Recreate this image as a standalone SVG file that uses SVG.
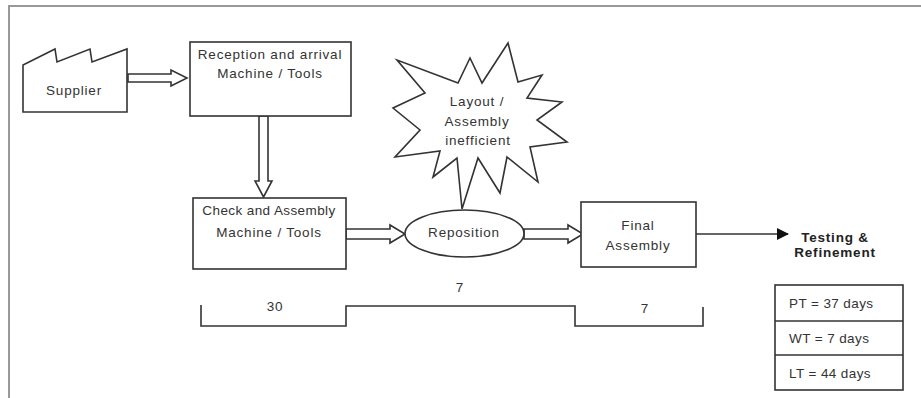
<svg xmlns="http://www.w3.org/2000/svg" width="921" height="398" viewBox="0 0 921 398">
<defs>
<style>
.shape{fill:#fff;stroke:#333;stroke-width:1.6;stroke-linejoin:miter}
.line{fill:none;stroke:#333;stroke-width:1.6}
.t{font-family:"Liberation Sans",Arial,sans-serif;font-size:13.5px;fill:#333;text-anchor:middle;letter-spacing:0.8px}
.tl{font-family:"Liberation Sans",Arial,sans-serif;font-size:13.5px;fill:#333;letter-spacing:0.4px}
.tb{font-family:"Liberation Sans",Arial,sans-serif;font-size:13.5px;font-weight:bold;fill:#222;text-anchor:middle;letter-spacing:0.8px}
</style>
<marker id="head" viewBox="0 0 12 12" refX="11" refY="6" markerWidth="12" markerHeight="12" markerUnits="userSpaceOnUse" orient="auto">
<path d="M0,0 L12,6 L0,12 Z" fill="#111"/>
</marker>
</defs>
<rect width="921" height="398" fill="#fff"/>
<g id="frame">
<path d="M9,398 L9,6 L921,6" fill="none" stroke="#999" stroke-width="2"/>
</g>
<g id="connectors">
<polygon class="shape" points="128,74 171,74 171,70 187,78 171,86 171,82 128,82"/>
<polygon class="shape" points="259,116 259,181 255,181 263.5,197 272,181 268,181 268,116"/>
<polygon class="shape" points="346,229 390,229 390,225 405,234 390,243 390,239 346,239"/>
<polygon class="shape" points="524,229 568,229 568,225 583,234 568,243 568,239 524,239"/>
<line class="line" x1="696" y1="234" x2="788" y2="234" marker-end="url(#head)"/>
</g>
<g id="supplier">
<path class="shape" d="M23,112 L23,65 L55,49 L57,62 L90,49 L92,62 L127,49 L127,112 Z"/>
<text class="t" x="74" y="95">Supplier</text>
</g>
<g id="reception">
<rect class="shape" x="190" y="42" width="161" height="74"/>
<text class="t" x="270" y="59">Reception and arrival</text>
<text class="t" x="270" y="78">Machine / Tools</text>
</g>
<g id="check">
<rect class="shape" x="193" y="198" width="153" height="71"/>
<text class="t" x="269" y="215" style="letter-spacing:0.4px">Check and Assembly</text>
<text class="t" x="269" y="237">Machine / Tools</text>
</g>
<g id="inefficiency">
<polygon class="shape" points="508,43 518,82 542,75 527,98 562,102 537,120 567,142 530,147 538,182 507,157 500,193 478,158 462,209 457,158 433,177 440,151 395,157 420,130 393,108 425,93 397,60 458,83 470,58 482,83"/>
<text class="t" x="477" y="106">Layout /</text>
<text class="t" x="477" y="126">Assembly</text>
<text class="t" x="478" y="145">inefficient</text>
</g>
<g id="reposition">
<ellipse class="shape" cx="464.5" cy="233.5" rx="59.5" ry="23.5"/>
<text class="t" x="464" y="237">Reposition</text>
</g>
<g id="final">
<rect class="shape" x="581" y="202" width="115" height="65"/>
<text class="t" x="638" y="230">Final</text>
<text class="t" x="638" y="250">Assembly</text>
</g>
<g id="testing">
<text class="tb" x="835" y="242">Testing &amp;</text>
<text class="tb" x="835" y="257">Refinement</text>
</g>
<g id="timeline">
<path class="line" d="M201,305 L201,326 L346,326 L346,306 L575,306 L575,326 L703,326 L703,307"/>
<text class="t" x="275" y="311">30</text>
<text class="t" x="460" y="292">7</text>
<text class="t" x="645" y="313">7</text>
</g>
<g id="summary">
<rect class="shape" x="775" y="285" width="128" height="105"/>
<line class="line" x1="775" y1="321" x2="903" y2="321"/>
<line class="line" x1="775" y1="355" x2="903" y2="355"/>
<text class="tl" x="789" y="308">PT = 37 days</text>
<text class="tl" x="789" y="343">WT = 7 days</text>
<text class="tl" x="789" y="378">LT = 44 days</text>
</g>
</svg>
